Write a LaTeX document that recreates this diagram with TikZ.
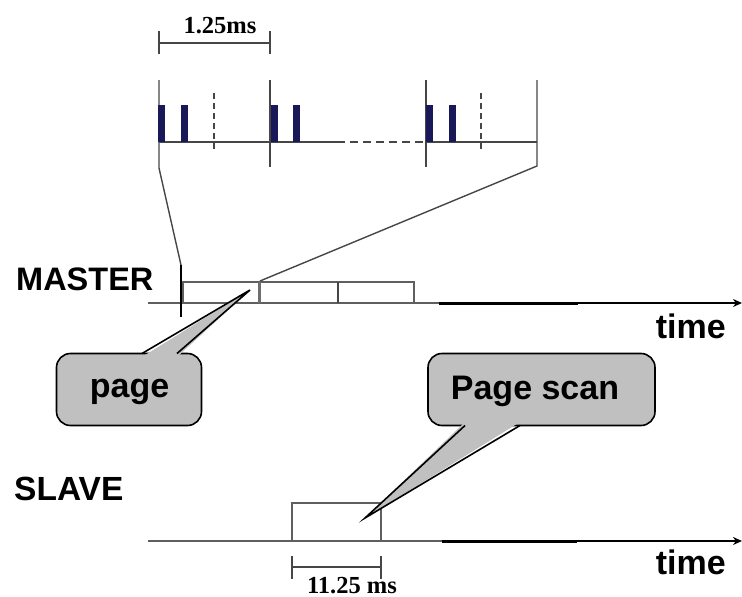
\documentclass[tikz,border=0pt]{standalone}
\usepackage{fontspec}
\setmainfont{Liberation Sans}
\newfontfamily\tms{Liberation Serif}
\usetikzlibrary{arrows.meta}
\definecolor{calloutgray}{RGB}{192,192,192}
\definecolor{pulsecol}{RGB}{25,25,90}
\definecolor{linegray}{RGB}{95,95,95}
\definecolor{figgray}{RGB}{70,70,70}
\definecolor{divgray}{RGB}{110,110,110}
\begin{document}
\begin{tikzpicture}[x=1pt,y=-1pt,
  figline/.style={draw=figgray, line width=1.4pt},
  pulsebar/.style={fill=pulsecol, draw=none},
  bigtxt/.style={inner sep=0pt, font=\bfseries\fontsize{32.5}{36}\selectfont},
  calltxt/.style={inner sep=0pt, font=\bfseries\fontsize{34}{38}\selectfont},
  seriftxt/.style={inner sep=0pt, font=\tms\bfseries\fontsize{24.5}{27}\selectfont},
  callbox/.style={draw=black, line width=1.6pt, fill=calloutgray, rounded corners=14pt, inner sep=0pt},
  axisgray/.style={draw=linegray, line width=2pt},
  axisthick/.style={draw=black, line width=3pt},
  axisarrow/.style={draw=black, line width=2.2pt, -{Stealth[length=9pt,width=8pt]}},
  boxline/.style={draw=linegray, line width=2pt}
]
\useasboundingbox (0,0) rectangle (742,597);

% ---------- top detail ----------
\coordinate (tl) at (159,142);
\coordinate (td1) at (337,142);
\coordinate (td2) at (426,142);
\coordinate (tr) at (537,142);
\draw[figline] (tl) -- (td1);
\draw[figline, dash pattern=on 8pt off 5pt] (td1) -- (td2);
\draw[figline] (td2) -- (tr);

\coordinate (v1t) at (159,80);  \coordinate (v1b) at (159,168);
\coordinate (v2t) at (270,80);  \coordinate (v2b) at (270,167);
\coordinate (v3t) at (426,80);  \coordinate (v3b) at (426,167);
\coordinate (v4t) at (537,80);  \coordinate (v4b) at (537,166);
\coordinate (mtick) at (181,265);
\coordinate (mbox2) at (260,281);
\draw[figline] (v1t) -- (v1b) -- (mtick);
\draw[figline] (v2t) -- (v2b);
\draw[figline] (v3t) -- (v3b);
\draw[figline] (v4t) -- (v4b) -- (mbox2);

\draw[figline, dash pattern=on 6pt off 4pt] (214,93) -- (214,152);
\draw[figline, dash pattern=on 6pt off 4pt] (481,93) -- (481,152);

\foreach \px in {158,181,271,293,426,449}
  \fill[pulsecol] (\px,105) rectangle ++(6.5,37);

% 1.25 ms dimension
\coordinate (d1) at (159,43);
\coordinate (d2) at (270,43);
\draw[figline] (d1) -- (d2);
\draw[figline] (159,31) -- (159,54);
\draw[figline] (270,31) -- (270,54);
\node[seriftxt, anchor=base] (dimtop) at (220,33) {1.25ms};

% ---------- MASTER ----------
\node[bigtxt, anchor=base west] (master) at (16,290) {MASTER};
\coordinate (m0) at (148,303);
\coordinate (m1) at (439,303);
\coordinate (m2) at (578,303);
\coordinate (m3) at (742,303);
\draw[axisgray] (m0) -- (m1);
\draw[axisthick] (m1) -- (m2);
\draw[axisarrow] (m2) -- (m3);
\draw[boxline] (183,303) |- (414,282) -- (414,303);
\draw[draw=divgray, line width=3pt] (259,282) -- (259,303);
\draw[draw=figgray, line width=2pt] (338,282) -- (338,303);
\draw[draw=black, line width=2.6pt] (mtick) -- (181,317);
\node[calltxt, anchor=base east] (time1) at (726,338) {time};

% ---------- SLAVE ----------
\node[bigtxt, anchor=base west, font=\bfseries\fontsize{33.5}{37}\selectfont] (slave) at (14,500) {SLAVE};
\coordinate (s0) at (148,541);
\coordinate (s1) at (442,541);
\coordinate (s2) at (577,541);
\coordinate (s3) at (742,541);
\draw[axisgray] (s0) -- (s1);
\draw[axisthick] (s1) -- (s2);
\draw[axisarrow] (s2) -- (s3);
\draw[boxline] (292,541) |- (381,503) -- (381,541);
\draw[figline] (292,567) -- (381,567);
\draw[figline] (292,556) -- (292,579);
\draw[figline] (381,556) -- (381,579);
\node[seriftxt, anchor=base] (dimbot) at (352,593) {11.25 ms};
\node[calltxt, anchor=base east] (time2) at (726,574) {time};

% ---------- callouts ----------
\node[callbox, minimum width=145pt, minimum height=72pt] (pagebox) at (129,389.5) {};
\coordinate (ptip) at (250,290);
\fill[calloutgray] (142,357) -- (ptip) -- (177,357) -- cycle;
\draw[black, line width=1.6pt, line join=miter] (142,353.5) -- (ptip) -- (177,353.5);
\node[calltxt, anchor=base] (pagetxt) at (129.5,397) {page};

\node[callbox, minimum width=227pt, minimum height=72pt] (scanbox) at (541.5,389.5) {};
\coordinate (stip) at (365,518);
\fill[calloutgray] (465,422) -- (stip) -- (520,422) -- cycle;
\draw[black, line width=1.6pt] (465,425.5) -- (stip) -- (520,425.5);
\node[calltxt, anchor=base] (scantxt) at (535,399) {Page scan};
\end{tikzpicture}
\end{document}
